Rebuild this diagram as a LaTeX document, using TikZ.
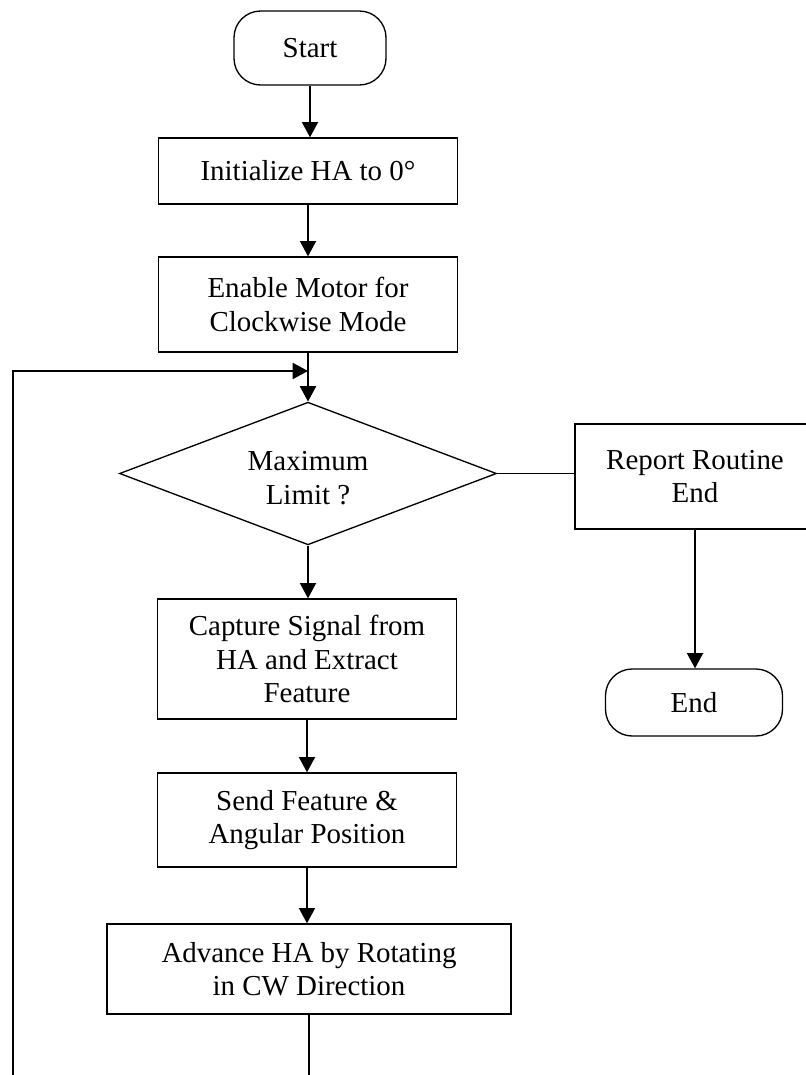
\documentclass[tikz,border=0pt]{standalone}
\usepackage{fontspec}
\setmainfont{Liberation Serif}
\usetikzlibrary{arrows.meta,shapes.geometric}
\begin{document}
\begin{tikzpicture}[x=0.75pt,y=-0.75pt,
  every node/.style={font=\fontsize{21.7}{25}\selectfont, align=center, inner sep=0pt},
  proc/.style={draw, line width=1pt, rectangle},
  term/.style={draw, line width=1pt, rectangle, rounded corners=20pt},
  dec/.style={draw, line width=1pt, diamond, aspect=2.6},
  flow/.style={line width=1.5pt, -{Triangle[length=11.5pt,width=12pt]}},
  link/.style={line width=1pt}]
\useasboundingbox (0,0) rectangle (806,1075);
\clip (0,0) rectangle (806,1075);

% main column
\node[term, minimum width=114pt, minimum height=55.5pt] (start) at (310,48) {Start};
\node[proc, minimum width=224.25pt, minimum height=49.5pt] (init) at (308,171) {Initialize HA to 0°};
\node[proc, minimum width=224.25pt, minimum height=71.25pt] (enable) at (308,304.5) {Enable Motor for\\Clockwise Mode};
\node[dec, minimum width=282.75pt, minimum height=107pt] (limit) at (308,473.5) {};
\node (limittext) at (308,478) {Maximum\\Limit ?};
\node[proc, minimum width=224.25pt, minimum height=90pt] (capture) at (307,659) {Capture Signal from\\HA and Extract\\Feature};
\node[proc, minimum width=224.25pt, minimum height=70.5pt] (send) at (307,820) {Send Feature \&\\Angular Position};
\node[proc, minimum width=303pt, minimum height=67.5pt] (advance) at (309,969) {Advance HA by Rotating\\in CW Direction};

% exit branch
\node[proc, minimum width=180pt, minimum height=78.75pt] (report) at (695,476.5) {Report Routine\\End};
\node[term, minimum width=132.75pt, minimum height=50.25pt] (finish) at (694,702.5) {End};

% loop helpers
\coordinate (join) at (308,371);
\coordinate (loopcorner) at (13,1100);

% connectors
\draw[flow] (start.south) -- (start.south |- init.north);
\draw[flow] (init.south) -- (init.south |- enable.north);
\draw[flow] (enable.south) -- (enable.south |- limit.north);
\draw[flow] (limit.south) -- (limit.south |- capture.north);
\draw[flow] (capture.south) -- (capture.south |- send.north);
\draw[flow] (send.south) -- (send.south |- advance.north);
\draw[link] (limit.east) -- (limit.east -| report.west);
\draw[flow] (report.south -| 695,0) -- (695,0 |- finish.north);
\draw[flow] (advance.south) |- (loopcorner) |- (join);
\end{tikzpicture}
\end{document}
